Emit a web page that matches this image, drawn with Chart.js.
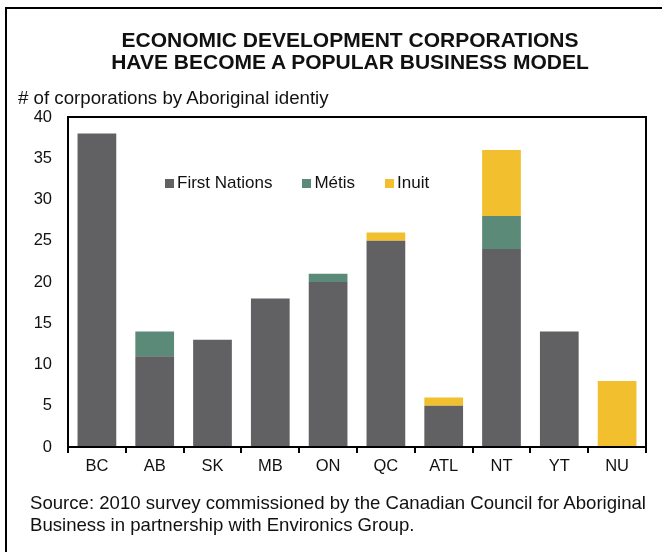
<!DOCTYPE html>
<html>
<head>
<meta charset="utf-8">
<script src="https://cdn.jsdelivr.net/npm/chart.js@4.4.1/dist/chart.umd.min.js"></script>
<style>
  html, body { margin:0; padding:0; background:#fff; }
  #wrap { position:relative; width:662px; height:552px; overflow:hidden; font-family:"Liberation Sans", Arial, sans-serif; color:#111; }
  #frame { position:absolute; left:5px; top:7px; width:700px; height:600px; border-left:2px solid #000; border-top:2px solid #000; }
  #title { position:absolute; width:662px; top:29px; left:19px; text-align:center; font-weight:bold; font-size:21px; line-height:22px; }
  #ytitle { position:absolute; left:18px; top:87px; font-size:18.7px; line-height:22px; }
  #legend { position:absolute; left:165px; top:172px; display:flex; font-size:17px; line-height:22px; }
  .item { display:flex; align-items:center; margin-right:30px; }
  .sw { width:9px; height:9px; margin-right:3px; }
  #source { position:absolute; left:30px; top:492px; font-size:18.6px; line-height:22px; white-space:nowrap; }
  canvas { position:absolute; left:0; top:0; }
</style>
</head>
<body>
<div id="wrap">
  <div id="frame"></div>
  <canvas id="c" width="662" height="552"></canvas>
  <div id="title">ECONOMIC DEVELOPMENT CORPORATIONS<br>HAVE BECOME A POPULAR BUSINESS MODEL</div>
  <div id="ytitle"># of corporations by Aboriginal identiy</div>
  <div id="legend"></div>
  <div id="source">Source: 2010 survey commissioned by the Canadian Council for Aboriginal<br>Business in partnership with Environics Group.</div>
</div>
<script>
const categories = ["BC","AB","SK","MB","ON","QC","ATL","NT","YT","NU"];
const firstNations = [38, 11, 13, 18, 20, 25, 5, 24, 14, 0];
const metis        = [0, 3, 0, 0, 1, 0, 0, 4, 0, 0];
const inuit        = [0, 0, 0, 0, 0, 1, 1, 8, 0, 8];
const seriesNames = ["First Nations", "Métis", "Inuit"];
const seriesColors = ["#616163", "#5b8a78", "#f2bf2f"];
const yTicks = [0, 5, 10, 15, 20, 25, 30, 35, 40];

const font = { family: "'Liberation Sans', Arial, sans-serif", size: 16.5 };

const boxPlugin = {
  id: 'box',
  afterDraw(chart) {
    const a = chart.chartArea, ctx = chart.ctx;
    ctx.save();
    ctx.strokeStyle = '#000';
    ctx.lineWidth = 2;
    ctx.strokeRect(a.left, a.top, a.right - a.left, a.bottom - a.top);
    ctx.restore();
  }
};

const seriesData = [firstNations, metis, inuit];
const chart = new Chart(document.getElementById('c'), {
  type: 'bar',
  data: {
    labels: categories,
    datasets: seriesNames.map((n, i) => ({
      label: n,
      data: seriesData[i],
      backgroundColor: seriesColors[i],
      borderWidth: 0,
      categoryPercentage: 1,
      barPercentage: 0.67
    }))
  },
  options: {
    responsive: false,
    animation: false,
    layout: { padding: { left: 0, right: 16, top: 117, bottom: 65 } },
    plugins: { legend: { display: false }, tooltip: { enabled: false } },
    scales: {
      x: {
        stacked: true,
        grid: { display: true, drawOnChartArea: false, drawTicks: true, tickLength: 6, color: '#000', lineWidth: 2, offset: true },
        border: { display: true, color: '#000', width: 2 },
        ticks: { color: '#111', font: font, padding: 4, maxRotation: 0 },
        afterFit(s) { s.height = 40; }
      },
      y: {
        stacked: true,
        min: 0, max: 40,
        afterBuildTicks(s) { s.ticks = yTicks.map(v => ({ value: v })); },
        grid: { display: false, drawTicks: false },
        border: { display: true, color: '#000', width: 2 },
        ticks: { color: '#111', font: font, padding: 16 },
        afterFit(s) { s.width = 68; }
      }
    }
  },
  plugins: [boxPlugin]
});

const lg = document.getElementById('legend');
chart.data.datasets.forEach(ds => {
  const it = document.createElement('div');
  it.className = 'item';
  const sw = document.createElement('div');
  sw.className = 'sw';
  sw.style.background = ds.backgroundColor;
  const tx = document.createElement('span');
  tx.textContent = ds.label;
  it.appendChild(sw); it.appendChild(tx);
  lg.appendChild(it);
});
</script>
</body>
</html>
